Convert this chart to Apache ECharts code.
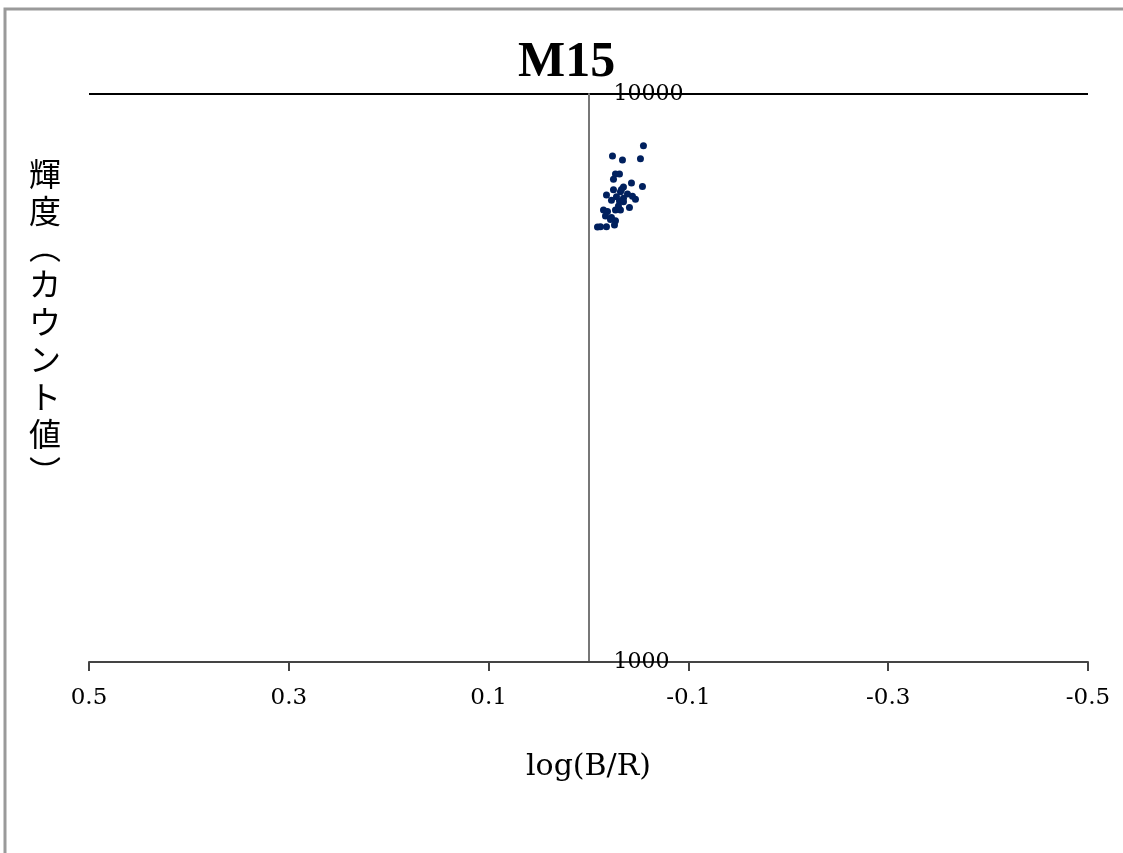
<!DOCTYPE html>
<html>
<head>
<meta charset="utf-8">
<script src="https://cdn.jsdelivr.net/npm/echarts@6/dist/echarts.min.js"></script>
<style>
  html, body { margin: 0; padding: 0; background: #fff; }
  #chart { width: 1123px; height: 853px; }
</style>
</head>
<body>
<div id="chart"></div>
<script>
// log(B/R) and brightness (count) of the M15 stars
const colorIndex = [
  -0.055, -0.024, -0.034, -0.052, -0.027, -0.031, -0.025, -0.043, -0.054,
  -0.035, -0.025, -0.032, -0.018, -0.039, -0.028, -0.035, -0.044, -0.023,
  -0.047, -0.031, -0.035, -0.041, -0.015, -0.019, -0.027, -0.032, -0.017,
  -0.023, -0.027, -0.009, -0.018, -0.026, -0.022, -0.030, -0.033, -0.012
];
const counts = [
  8110, 7780, 7650, 7690, 7230, 7230, 7080, 6970, 6870,
  6860, 6780, 6730, 6640, 6670, 6590, 6550, 6610, 6500,
  6530, 6480, 6460, 6310, 6250, 6210, 6250, 6250, 6100,
  6060, 5980, 5830, 5840, 5880, 6010, 6350, 6790, 5840
];
const xTicks = [0.5, 0.3, 0.1, -0.1, -0.3, -0.5];

const points = colorIndex.map((x, i) => [x, counts[i]]);

const chart = echarts.init(document.getElementById('chart'));
chart.setOption({
  animation: false,
  title: {
    text: 'M15',
    left: 513,
    top: 33,
    textStyle: {
      fontFamily: 'Liberation Serif',
      fontSize: 50,
      fontWeight: 'bold',
      color: '#000'
    }
  },
  grid: {
    left: 89,
    right: 35,
    top: 94,
    bottom: 191
  },
  xAxis: {
    type: 'value',
    min: -0.5,
    max: 0.5,
    inverse: true,
    name: 'log(B/R)',
    nameLocation: 'middle',
    nameGap: 90,
    nameTextStyle: {
      fontFamily: 'DejaVu Serif',
      fontSize: 30,
      color: '#000'
    },
    axisLine: { onZero: false, lineStyle: { color: '#444', width: 2 } },
    axisTick: {
      show: true,
      length: 9,
      customValues: xTicks,
      lineStyle: { color: '#444', width: 2 }
    },
    axisLabel: {
      customValues: xTicks,
      margin: 25,
      fontFamily: 'DejaVu Serif',
      fontSize: 23,
      color: '#000',
      formatter: (v) => v.toFixed(1)
    },
    splitLine: { show: false }
  },
  yAxis: {
    type: 'log',
    logBase: 10,
    min: 1000,
    max: 10000,
    position: 'left',
    offset: -499.5, // put the axis at log(B/R) = 0
    axisLine: { show: true, onZero: false, lineStyle: { color: '#777', width: 2 } },
    axisTick: { show: false },
    axisLabel: {
      inside: true,
      margin: 25,
      fontFamily: 'DejaVu Serif',
      fontSize: 22,
      color: '#000',
      formatter: (v) => String(Math.round(v))
    },
    splitLine: { show: true, lineStyle: { color: '#000', width: 2 } }
  },
  graphic: [
    {
      type: 'polyline',
      shape: { points: [[5, 853], [5, 9], [1123, 9]] },
      style: { stroke: '#9a9a9a', lineWidth: 3, fill: null }
    },
    {
      type: 'text',
      left: 29,
      top: 155,
      style: {
        text: '輝\n度',
        fontFamily: 'Noto Sans CJK JP',
        fontSize: 32,
        lineHeight: 37,
        fill: '#000'
      }
    },
    {
      type: 'text',
      left: 29,
      top: 228,
      style: {
        text: '︵\nカ\nウ\nン\nト\n値\n︶',
        fontFamily: 'Noto Sans CJK JP',
        fontSize: 32,
        lineHeight: 37.5,
        fill: '#000'
      }
    }
  ],
  series: [
    {
      type: 'scatter',
      data: points,
      symbol: 'circle',
      symbolSize: 7,
      itemStyle: { color: '#00205e', opacity: 1 }
    }
  ]
});
</script>
</body>
</html>
